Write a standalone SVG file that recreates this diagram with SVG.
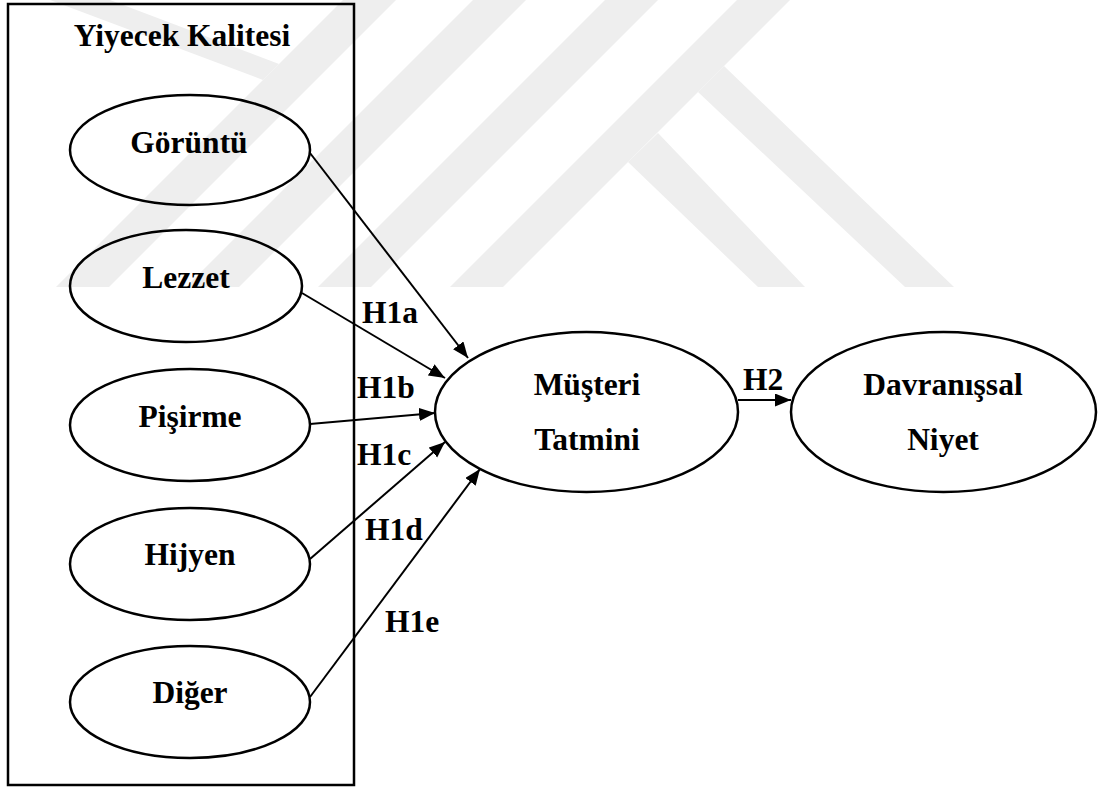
<svg xmlns="http://www.w3.org/2000/svg" width="1098" height="787" viewBox="0 0 1098 787">
  <defs>
    <style>
      .wm { fill: #eeeeee; stroke: none; }
      .frame { fill: none; stroke: #000; stroke-width: 2.5; }
      .node { fill: none; stroke: #000; stroke-width: 2.5; }
      .lbl { font-family: "Liberation Serif", "Times New Roman", serif; font-weight: bold; font-size: 31.5px; fill: #000; }
      .mid { text-anchor: middle; }
      .edge { stroke: #000; stroke-width: 2; fill: none; marker-end: url(#arrow); }
    </style>
    <marker id="arrow" markerUnits="userSpaceOnUse" markerWidth="18" markerHeight="14" refX="16" refY="6.5" orient="auto">
      <path d="M0,0 L16,6.5 L0,13 z" fill="#000"/>
    </marker>
  </defs>
  <rect width="1098" height="787" fill="#ffffff"/>
  <g id="watermark">
    <polygon class="wm" points="343,0 396,0 109,287 56,287"/>
    <polygon class="wm" points="473,0 526,0 239,287 186,287"/>
    <polygon class="wm" points="605,0 658,0 371,287 318,287"/>
    <polygon class="wm" points="737,0 790,0 503,287 450,287"/>
    <polygon class="wm" points="658,133 805,287 758,287 628,162"/>
    <polygon class="wm" points="724,66 954,287 905,287 698,92"/>
    <polygon class="wm" points="50,0 110,0 279,64 263,80"/>
  </g>
  <g id="group-yiyecek-kalitesi">
    <rect class="frame" x="8" y="4" width="346" height="781"/>
    <text class="lbl mid" x="182" y="46">Yiyecek Kalitesi</text>
  </g>
  <g id="node-goruntu">
    <ellipse class="node" cx="190" cy="150" rx="120" ry="55"/>
    <text class="lbl mid" x="189" y="153">Görüntü</text>
  </g>
  <g id="node-lezzet">
    <ellipse class="node" cx="186" cy="286" rx="116" ry="56"/>
    <text class="lbl mid" x="186" y="288">Lezzet</text>
  </g>
  <g id="node-pisirme">
    <ellipse class="node" cx="190" cy="425" rx="120" ry="56"/>
    <text class="lbl mid" x="190" y="427">Pişirme</text>
  </g>
  <g id="node-hijyen">
    <ellipse class="node" cx="190" cy="564" rx="120" ry="56"/>
    <text class="lbl mid" x="190" y="565">Hijyen</text>
  </g>
  <g id="node-diger">
    <ellipse class="node" cx="190" cy="702" rx="120" ry="56"/>
    <text class="lbl mid" x="190" y="703">Diğer</text>
  </g>
  <g id="node-musteri-tatmini">
    <ellipse class="node" cx="586.5" cy="412" rx="151.5" ry="80"/>
    <text class="lbl mid" x="587" y="395">Müşteri</text>
    <text class="lbl mid" x="587" y="450">Tatmini</text>
  </g>
  <g id="node-davranissal-niyet">
    <ellipse class="node" cx="943.5" cy="412" rx="152.5" ry="80"/>
    <text class="lbl mid" x="943" y="395">Davranışsal</text>
    <text class="lbl mid" x="943" y="450">Niyet</text>
  </g>
  <g id="connectors">
    <line class="edge" x1="310" y1="153" x2="468" y2="358"/>
    <line class="edge" x1="302" y1="293" x2="445" y2="378"/>
    <line class="edge" x1="310" y1="424" x2="435" y2="413"/>
    <line class="edge" x1="310" y1="559" x2="445" y2="442"/>
    <line class="edge" x1="310" y1="697" x2="480" y2="469"/>
    <line class="edge" x1="738" y1="400" x2="791" y2="400"/>
    <text class="lbl" x="362" y="323">H1a</text>
    <text class="lbl" x="357" y="398">H1b</text>
    <text class="lbl" x="357" y="465">H1c</text>
    <text class="lbl" x="365" y="540">H1d</text>
    <text class="lbl" x="385" y="632">H1e</text>
    <text class="lbl" x="743" y="390">H2</text>
  </g>
</svg>
